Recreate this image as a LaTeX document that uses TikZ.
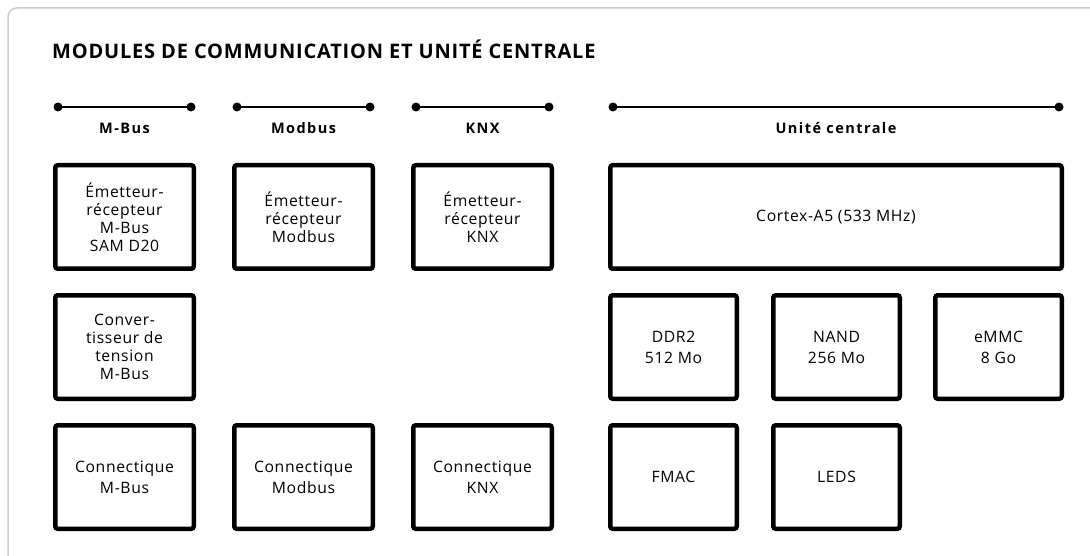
\documentclass[tikz,border=0pt]{standalone}
\usepackage{fontspec}
\usetikzlibrary{calc}
\setmainfont{Open Sans}[LetterSpace=4]
\newfontfamily\titlefont{Open Sans}[LetterSpace=4]
\newfontfamily\labelfont{Open Sans}[LetterSpace=10]
\begin{document}
\begin{tikzpicture}[x=1pt,y=-1pt,
  blk/.style={draw=black, line width=4.5pt, rounded corners=2.5pt, fill=white,
    inner sep=0pt, minimum width=138.5pt, minimum height=103.5pt, align=center,
    font=\fontsize{15.7}{18}\selectfont},
  blktwo/.style={blk, font=\fontsize{15.7}{21}\selectfont},
  wideblk/.style={blk, minimum width=126.5pt},
  bar/.style={line width=1.5pt, black},
  barlabel/.style={font=\labelfont\bfseries\fontsize{14.5}{16}\selectfont},
  dotc/.style={black}]
\useasboundingbox (0,0) rectangle (1090,556);
\clip (0,0) rectangle (1090,556);
\draw[draw=black!20, line width=1.5pt, rounded corners=9pt] (8,8) rectangle (1120,590);
\node[anchor=west, inner sep=0pt, font=\titlefont\bfseries\fontsize{20}{22}\selectfont] (title) at (52,49)
  {MODULES DE COMMUNICATION ET UNITÉ CENTRALE};
% bars
\foreach \n/\a/\b/\t in {mb/58/191/M-Bus, md/237/370/Modbus, kx/416/549/KNX, uc/613/1059/Unité centrale}{
  \coordinate (\n L) at (\a,107);
  \coordinate (\n R) at (\b,107);
  \draw[bar] (\n L) -- (\n R);
  \fill[dotc] (\n L) circle (4.5pt);
  \fill[dotc] (\n R) circle (4.5pt);
  \node[barlabel] (\n lab) at ($(\n L)!0.5!(\n R)+(0,21)$) {\t};
}
% row 1
\node[blk] (mbtx) at (124.5,217) {Émetteur-\\récepteur\\M-Bus\\SAM D20};
\node[blk] (mdtx) at (303.5,217) {Émetteur-\\récepteur\\Modbus};
\node[blk] (kxtx) at (482.5,217) {Émetteur-\\récepteur\\KNX};
\node[blk, minimum width=451.5pt] (cpu) at (836,217) {Cortex-A5 (533 MHz)};
% row 2
\node[blk] (mbconv) at (124.5,347) {Conver-\\tisseur de\\tension\\M-Bus};
\node[wideblk, font=\fontsize{15.7}{21}\selectfont] (ddr) at (673.5,347) {DDR2\\512 Mo};
\node[wideblk, font=\fontsize{15.7}{21}\selectfont] (nand) at (836.5,347) {NAND\\256 Mo};
\node[wideblk, font=\fontsize{15.7}{21}\selectfont] (emmc) at (998.5,347) {eMMC\\8 Go};
% row 3
\node[blktwo] (mbcon) at (124.5,477) {Connectique\\M-Bus};
\node[blktwo] (mdcon) at (303.5,477) {Connectique\\Modbus};
\node[blktwo] (kxcon) at (482.5,477) {Connectique\\KNX};
\node[wideblk] (fmac) at (673.5,477) {FMAC};
\node[wideblk] (leds) at (836.5,477) {LEDS};
\end{tikzpicture}
\end{document}
